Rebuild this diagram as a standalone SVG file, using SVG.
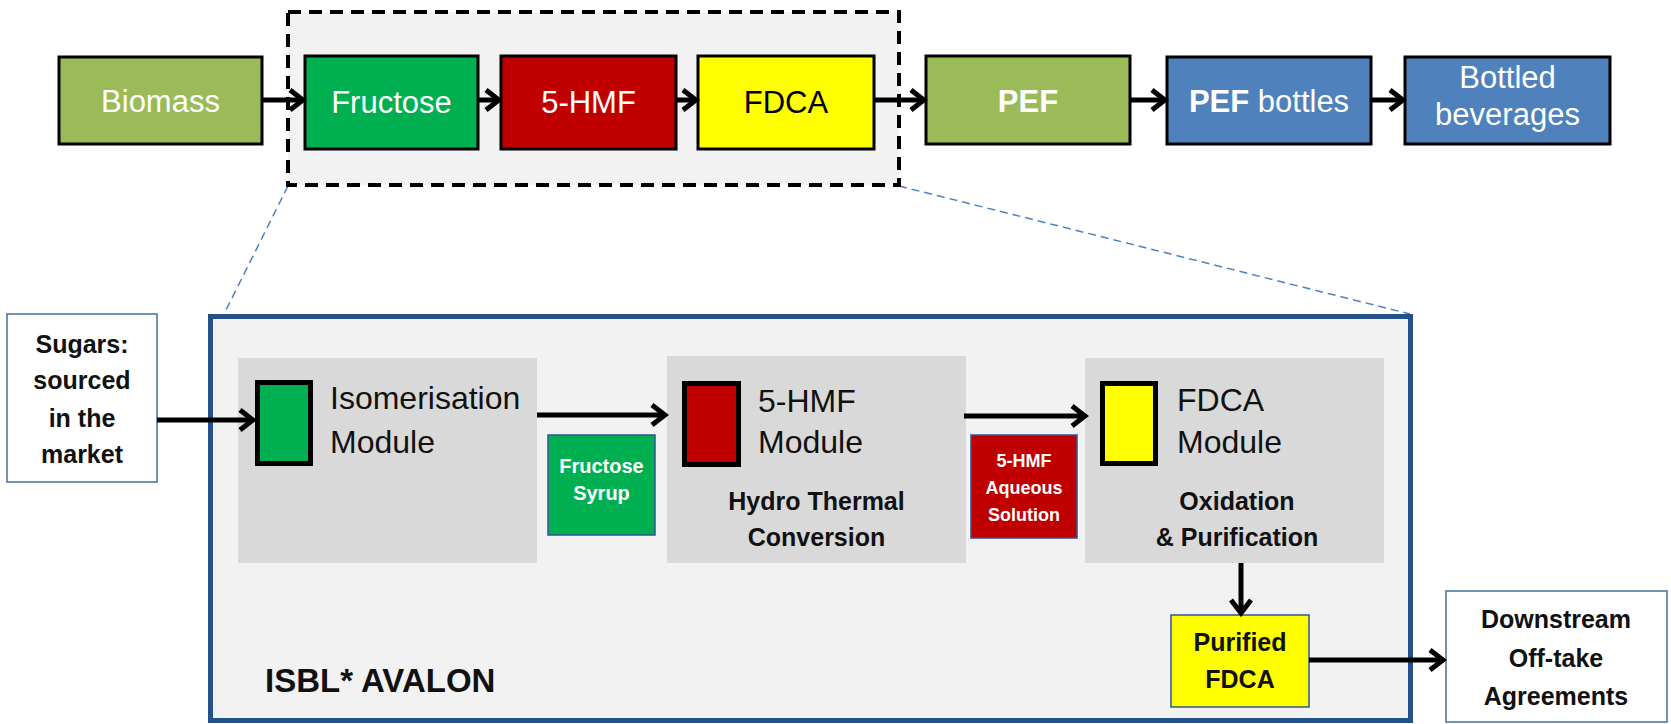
<svg xmlns="http://www.w3.org/2000/svg" width="1671" height="724" viewBox="0 0 1671 724">
<defs>
<style>
text{font-family:"Liberation Sans",Arial,sans-serif}
.top{font-size:31px;text-anchor:middle}
.w{fill:#fff}
.b{font-weight:bold}
.box{stroke:#000;stroke-width:3}
.mod{fill:#D9D9D9}
.sq{stroke:#000;stroke-width:5}
.mt{font-size:32px;fill:#111}
.lbl{font-size:25px;font-weight:bold;text-anchor:middle;fill:#111}
.small{stroke:#2F5597;stroke-width:1.5}
.st{font-weight:bold;fill:#fff;text-anchor:middle}
.ext{fill:#fff;stroke:#41719C;stroke-width:1.5}
.arr{stroke:#000;stroke-width:5;fill:none;marker-end:url(#ah)}
.zoom{stroke:#4F81BD;stroke-width:1.5;stroke-dasharray:8 5;fill:none}
</style>
<marker id="ah" markerUnits="userSpaceOnUse" viewBox="0 0 20 24" refX="16" refY="12" markerWidth="20" markerHeight="24" orient="auto">
<path d="M3,2 L16,12 L3,22" fill="none" stroke="#000" stroke-width="5"/>
</marker>
</defs>

<g id="zoom-lines">
<line class="zoom" x1="288" y1="186" x2="224" y2="314"/>
<line class="zoom" x1="899" y1="186" x2="1410" y2="314"/>
</g>

<g id="group-dashed">
<rect x="288" y="12" width="611" height="173" fill="#F2F2F2" stroke="#000" stroke-width="4" stroke-dasharray="13 8"/>
</g>

<g id="biomass">
<rect class="box" x="59" y="57" width="203" height="87" fill="#9BBB59"/>
<text class="top w" x="160.5" y="112">Biomass</text>
</g>
<g id="fructose">
<rect class="box" x="305" y="56" width="173" height="93" fill="#00B050"/>
<text class="top w" x="391.5" y="113">Fructose</text>
</g>
<g id="hmf">
<rect class="box" x="501" y="56" width="175" height="93" fill="#C00000"/>
<text class="top w" x="588.5" y="113">5-HMF</text>
</g>
<g id="fdca">
<rect class="box" x="698" y="56" width="176" height="93" fill="#FFFF00"/>
<text class="top" x="786" y="113" fill="#000">FDCA</text>
</g>
<g id="pef">
<rect class="box" x="926" y="56" width="204" height="88" fill="#9BBB59"/>
<text class="top w b" x="1028" y="112">PEF</text>
</g>
<g id="pef-bottles">
<rect class="box" x="1167" y="57" width="204" height="87" fill="#4F81BD"/>
<text class="top w" x="1269" y="112"><tspan class="b">PEF</tspan> bottles</text>
</g>
<g id="bottled-beverages">
<rect class="box" x="1405" y="57" width="205" height="87" fill="#4F81BD"/>
<text class="top w" x="1507.5" y="88">Bottled</text>
<text class="top w" x="1507.5" y="125">beverages</text>
</g>

<g id="isbl-avalon">
<rect x="210.5" y="316.5" width="1200" height="404" fill="#F2F2F2" stroke="#24518A" stroke-width="5"/>
<text x="265" y="692" font-size="33" font-weight="bold" fill="#111">ISBL* AVALON</text>
</g>

<g id="sugars">
<rect class="ext" x="7" y="314" width="150" height="168"/>
<text class="lbl" x="82" y="353">Sugars:</text>
<text class="lbl" x="82" y="389">sourced</text>
<text class="lbl" x="82" y="427">in the</text>
<text class="lbl" x="82" y="463">market</text>
</g>

<g id="isomerisation-module">
<rect class="mod" x="238" y="358" width="299" height="205"/>
<rect class="sq" x="257.5" y="382.5" width="53" height="81" fill="#00B050"/>
<text class="mt" x="330" y="409">Isomerisation</text>
<text class="mt" x="330" y="453">Module</text>
</g>

<g id="hmf-module">
<rect class="mod" x="667" y="356" width="299" height="207"/>
<rect class="sq" x="684.5" y="383.5" width="54" height="81" fill="#C00000"/>
<text class="mt" x="758" y="412">5-HMF</text>
<text class="mt" x="758" y="453">Module</text>
<text class="lbl" x="816.5" y="510">Hydro Thermal</text>
<text class="lbl" x="816.5" y="546">Conversion</text>
</g>

<g id="fdca-module">
<rect class="mod" x="1085" y="358" width="299" height="205"/>
<rect class="sq" x="1102.5" y="383.5" width="53" height="80" fill="#FFFF00"/>
<text class="mt" x="1177" y="411">FDCA</text>
<text class="mt" x="1177" y="453">Module</text>
<text class="lbl" x="1237" y="510">Oxidation</text>
<text class="lbl" x="1237" y="546">&amp; Purification</text>
</g>

<g id="fructose-syrup">
<rect class="small" x="548" y="435" width="107" height="100" fill="#00B050"/>
<text class="st" x="601.5" y="473" font-size="20">Fructose</text>
<text class="st" x="601.5" y="500" font-size="20">Syrup</text>
</g>

<g id="hmf-solution">
<rect class="small" x="971" y="435" width="106" height="103" fill="#C00000"/>
<text class="st" x="1024" y="467" font-size="18">5-HMF</text>
<text class="st" x="1024" y="494" font-size="18">Aqueous</text>
<text class="st" x="1024" y="521" font-size="18">Solution</text>
</g>

<g id="purified-fdca">
<rect class="small" x="1171" y="615" width="138" height="92" fill="#FFFF00"/>
<text class="lbl" x="1240" y="651">Purified</text>
<text class="lbl" x="1240" y="688">FDCA</text>
</g>

<g id="downstream">
<rect class="ext" x="1446" y="591" width="221" height="131"/>
<text class="lbl" x="1556" y="628">Downstream</text>
<text class="lbl" x="1556" y="667">Off-take</text>
<text class="lbl" x="1556" y="705">Agreements</text>
</g>

<g id="connectors">
<line class="arr" x1="262" y1="100" x2="303" y2="100"/>
<line class="arr" x1="478" y1="100" x2="499" y2="100"/>
<line class="arr" x1="676" y1="100" x2="696" y2="100"/>
<line class="arr" x1="874" y1="100" x2="924" y2="100"/>
<line class="arr" x1="1130" y1="100" x2="1165" y2="100"/>
<line class="arr" x1="1371" y1="100" x2="1403" y2="100"/>
<line class="arr" x1="157" y1="420" x2="253" y2="420"/>
<line class="arr" x1="537" y1="415" x2="665" y2="415"/>
<line class="arr" x1="964" y1="416" x2="1085" y2="416"/>
<line class="arr" x1="1241" y1="563" x2="1241" y2="613"/>
<line class="arr" x1="1309" y1="660" x2="1443" y2="660"/>
</g>
</svg>
